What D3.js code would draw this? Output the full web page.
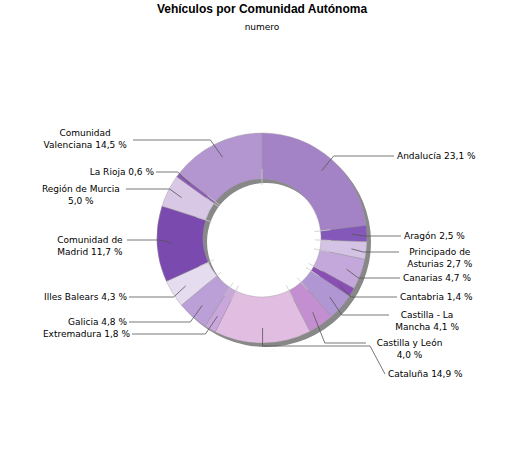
<!DOCTYPE html>
<html><head><meta charset="utf-8">
<script src="https://cdn.jsdelivr.net/npm/d3@7"></script>
<style>body{margin:0;background:#fff}</style></head>
<body>
<script>
var regions = ["Andalucía","Aragón","Principado de Asturias","Canarias","Cantabria","Castilla - La Mancha","Castilla y León","Cataluña","Extremadura","Galicia","Illes Balears","Comunidad de Madrid","Región de Murcia","La Rioja","Comunidad Valenciana"];
var shares = [23.1,2.5,2.7,4.7,1.4,4.1,4.0,14.9,1.8,4.8,4.3,11.7,5.0,0.6,14.5];
var colors = ["#a383c6","#8458b8","#d5c3e6","#c4a8dc","#8a4fb5","#b096d2","#c48fd0","#e2bde2","#c9a7dc","#bba0d8","#e6dcef","#7a4aae","#d8c8e6","#8e5ab8","#b396cf"];
// label text lines
var labelLines = [["Andalucía 23,1 %"],["Aragón 2,5 %"],["Principado de","Asturias 2,7 %"],["Canarias 4,7 %"],["Cantabria 1,4 %"],["Castilla - La","Mancha 4,1 %"],["Castilla y León","4,0 %"],["Cataluña 14,9 %"],["Extremadura 1,8 %"],["Galicia 4,8 %"],["Illes Balears 4,3 %"],["Comunidad de","Madrid 11,7 %"],["Región de Murcia","5,0 %"],["La Rioja 0,6 %"],["Comunidad","Valenciana 14,5 %"]];

// layout: label anchor x, first baseline y, line y
var layout = [
  {x:397,y:159,ly:156},{x:404,y:239,ly:236},{x:402,y:255,ly:252},{x:403,y:281,ly:278},
  {x:400,y:300,ly:297},{x:392,y:318,ly:315},{x:369,y:346,ly:343},{x:388,y:377,ly:374},
  {x:130,y:337,ly:334},{x:127,y:325,ly:322},{x:127,y:300,ly:297},{x:125,y:243,ly:240},
  {x:124,y:192,ly:189},{x:154,y:175,ly:172},{x:131,y:136,ly:140}
];

var w = 525, h = 450, cx = 262, cy = 238, R = 105, r0 = 59;
var svg = d3.select("body").append("svg").attr("width", w).attr("height", h);

svg.append("text").attr("x", cx).attr("y", 13).attr("text-anchor","middle")
  .style("font","bold 12px 'Liberation Sans', Arial").text("Vehículos por Comunidad Autónoma");
svg.append("text").attr("x", cx).attr("y", 30).attr("text-anchor","middle")
  .style("font","9px 'DejaVu Sans'").text("numero");

var pie = d3.pie().sort(null).value(function(d){return d;});
var arcs = pie(shares);
var arc = d3.arc().innerRadius(r0).outerRadius(R);

var g = svg.append("g").attr("transform","translate("+cx+","+cy+")");
// shadow
g.append("path").attr("transform","translate(4,4)")
  .attr("d", d3.arc().innerRadius(r0).outerRadius(R).startAngle(0).endAngle(2*Math.PI)())
  .attr("fill","#888");
g.selectAll("path.slice").data(arcs).enter().append("path").attr("class","slice")
  .attr("d", arc).attr("fill", function(d,i){return colors[i];})
  .attr("stroke", "#999").attr("stroke-width", 0.4);

// faint boundary ticks
g.selectAll("line.tick").data(arcs).enter().append("line")
  .attr("x1", function(d){return (r0-6)*Math.sin(d.startAngle);})
  .attr("y1", function(d){return -(r0-6)*Math.cos(d.startAngle);})
  .attr("x2", function(d){return (r0+10)*Math.sin(d.startAngle);})
  .attr("y2", function(d){return -(r0+10)*Math.cos(d.startAngle);})
  .attr("stroke","#ccc").attr("stroke-width",0.8);

var lbl = svg.append("g").style("font","9px 'DejaVu Sans'").attr("fill","#000");
arcs.forEach(function(d,i){
  var a = (d.startAngle + d.endAngle)/2;
  var sx = cx + (R-15)*Math.sin(a), sy = cy - (R-15)*Math.cos(a);
  var L = layout[i], right = Math.sin(a) > 0;
  var lines = labelLines[i];
  var ex = right ? L.x - 3 : L.x + 2;
  var kx = right ? Math.max(sx + 12, sx) : Math.min(sx - 12, sx);
  if (i === 7) { kx = sx; }
  lbl.append("polyline")
    .attr("points", [[sx,sy],[kx,L.ly],[ex,L.ly]].map(function(p){return p.join(",");}).join(" "))
    .attr("fill","none").attr("stroke","#555").attr("stroke-width",0.8);
  if (i === 7) {
    lbl.select("polyline:last-child").attr("points", sx+","+sy+" "+sx+","+(cy+108)+" "+370+","+(cy+108)+" "+(L.x-3)+","+L.ly);
  }
  var multi = lines.length > 1;
  var t = lbl.append("text").attr("y", L.y);
  var anchor = right ? "start" : "end";
  var tx = L.x;
  if (multi) {
    anchor = "middle";
    var wdt = 0;
    lines.forEach(function(s){ wdt = Math.max(wdt, s.length*5.4); });
    tx = right ? L.x + wdt/2 : L.x - wdt/2;
  }
  t.attr("text-anchor", anchor);
  lines.forEach(function(s,k){
    t.append("tspan").attr("x", tx).attr("dy", k ? 12 : 0).text(s);
  });
});
</script>
</body></html>
